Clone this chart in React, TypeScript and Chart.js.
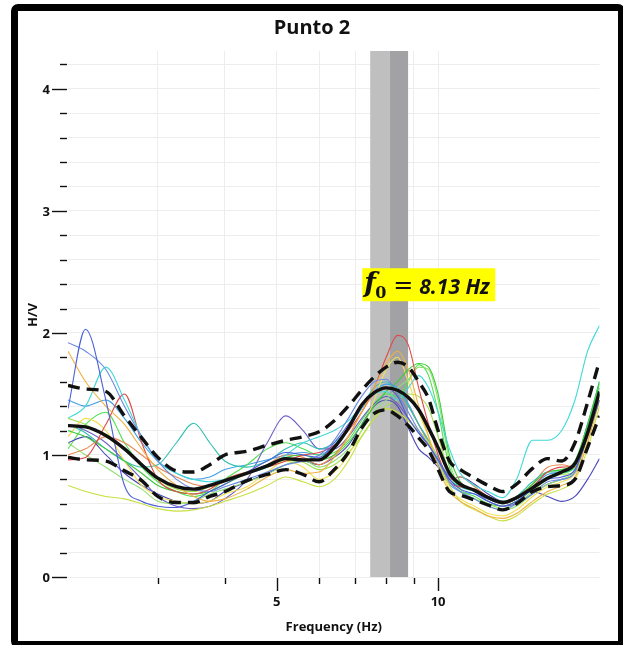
import React, { useEffect, useRef } from 'react';
import { Chart, registerables } from 'chart.js';

Chart.register(...registerables);

// ---------- data ----------
const freqs = [2.04, 2.2, 2.4, 2.6, 2.8, 3.0, 3.25, 3.5, 3.75, 4.0,
  4.4, 4.8, 5.2, 5.6, 6.0, 6.4, 6.8, 7.2, 7.6, 8.0,
  8.4, 8.8, 9.2, 9.6, 10.0, 10.5, 11.0, 11.7, 12.4, 13.2,
  14.0, 15.0, 16.0, 17.0, 18.0, 19.0, 20.0];

const meanCurve = [1.24, 1.23, 1.16, 1.05, 0.92, 0.81, 0.74, 0.72, 0.75, 0.79,
  0.85, 0.91, 0.97, 0.96, 0.96, 1.06, 1.22, 1.41, 1.51, 1.55,
  1.53, 1.47, 1.37, 1.22, 1.06, 0.85, 0.76, 0.71, 0.65, 0.61,
  0.65, 0.73, 0.81, 0.86, 0.93, 1.18, 1.52];

const upperCurve = [1.57, 1.54, 1.52, 1.32, 1.14, 0.98, 0.87, 0.86, 0.92, 1.0,
  1.03, 1.08, 1.12, 1.15, 1.19, 1.28, 1.40, 1.53, 1.64, 1.72,
  1.76, 1.72, 1.60, 1.46, 1.20, 0.95, 0.88, 0.81, 0.75, 0.70,
  0.76, 0.89, 0.97, 0.95, 1.10, 1.43, 1.77];

const lowerCurve = [0.98, 0.96, 0.95, 0.87, 0.79, 0.66, 0.61, 0.61, 0.66, 0.70,
  0.79, 0.84, 0.88, 0.84, 0.78, 0.88, 1.02, 1.22, 1.34, 1.37,
  1.32, 1.24, 1.14, 1.04, 0.88, 0.70, 0.67, 0.63, 0.59, 0.55,
  0.60, 0.70, 0.74, 0.75, 0.80, 1.06, 1.32];

const windowColors = ['#4a5fd8', '#6a88e0', '#f0b040', '#40d8d8', '#e04848', '#3ccc3c', '#90e070', '#c8e040',
  '#f0e050', '#30c0b0', '#e88850', '#7060c8', '#4848b8', '#50e050', '#40a0e8', '#a0e050'];

const win01 = [1.38, 2.03, 1.45, 0.75, 0.62, 0.58, 0.57, 0.62, 0.70, 0.76,
  0.86, 0.95, 1.02, 1.00, 0.98, 1.10, 1.25, 1.40, 1.52, 1.55,
  1.48, 1.30, 1.18, 1.08, 0.96, 0.80, 0.72, 0.68, 0.62, 0.58,
  0.62, 0.72, 0.80, 0.82, 0.88, 1.15, 1.45];
const win02 = [1.92, 1.85, 1.70, 1.40, 1.15, 0.95, 0.80, 0.72, 0.70, 0.74,
  0.80, 0.86, 0.92, 0.95, 1.00, 1.12, 1.30, 1.48, 1.60, 1.62,
  1.50, 1.35, 1.20, 1.08, 0.95, 0.78, 0.70, 0.64, 0.58, 0.55,
  0.60, 0.68, 0.78, 0.80, 0.86, 1.20, 1.50];
const win03 = [1.85, 1.60, 1.40, 1.25, 1.05, 0.88, 0.75, 0.66, 0.62, 0.64,
  0.72, 0.82, 0.88, 0.85, 0.86, 0.98, 1.15, 1.35, 1.55, 1.75,
  1.85, 1.70, 1.40, 1.15, 0.90, 0.70, 0.62, 0.56, 0.50, 0.48,
  0.52, 0.62, 0.70, 0.75, 0.82, 1.10, 1.45];
const win04 = [1.30, 1.40, 1.72, 1.45, 1.15, 0.95, 0.85, 0.80, 0.78, 0.80,
  0.85, 0.90, 1.00, 1.10, 1.15, 1.20, 1.28, 1.40, 1.50, 1.52,
  1.45, 1.55, 1.65, 1.55, 1.35, 1.05, 0.85, 0.75, 0.70, 0.65,
  0.80, 1.12, 1.12, 1.20, 1.45, 1.85, 2.06];
const win05 = [0.96, 0.98, 1.25, 1.50, 1.10, 0.80, 0.70, 0.68, 0.72, 0.80,
  0.86, 0.90, 0.95, 1.00, 1.02, 1.08, 1.20, 1.35, 1.55, 1.80,
  1.98, 1.90, 1.55, 1.25, 1.00, 0.78, 0.74, 0.72, 0.66, 0.60,
  0.64, 0.74, 0.86, 0.90, 0.92, 1.20, 1.50];
const win06 = [1.20, 1.15, 1.05, 0.95, 0.85, 0.75, 0.70, 0.68, 0.70, 0.76,
  0.85, 0.92, 0.98, 1.00, 0.96, 1.00, 1.10, 1.25, 1.40, 1.52,
  1.60, 1.70, 1.75, 1.72, 1.50, 1.00, 0.78, 0.70, 0.66, 0.60,
  0.64, 0.76, 0.86, 0.88, 0.95, 1.25, 1.60];
const win07 = [1.10, 1.00, 0.90, 0.80, 0.72, 0.62, 0.60, 0.62, 0.68, 0.72,
  0.78, 0.84, 0.92, 0.96, 0.90, 0.95, 1.05, 1.20, 1.35, 1.45,
  1.55, 1.62, 1.72, 1.70, 1.45, 0.95, 0.72, 0.64, 0.58, 0.55,
  0.58, 0.68, 0.76, 0.80, 0.88, 1.20, 1.55];
const win08 = [0.75, 0.70, 0.66, 0.64, 0.60, 0.56, 0.54, 0.55, 0.58, 0.62,
  0.68, 0.75, 0.82, 0.78, 0.74, 0.80, 0.95, 1.15, 1.30, 1.38,
  1.35, 1.28, 1.20, 1.10, 0.95, 0.75, 0.62, 0.55, 0.50, 0.46,
  0.50, 0.60, 0.68, 0.72, 0.80, 1.05, 1.40];
const win09 = [1.15, 1.30, 1.20, 0.95, 0.75, 0.66, 0.62, 0.60, 0.62, 0.68,
  0.74, 0.86, 0.95, 0.90, 0.80, 0.86, 1.00, 1.20, 1.45, 1.70,
  1.80, 1.60, 1.35, 1.15, 0.95, 0.72, 0.64, 0.58, 0.52, 0.50,
  0.55, 0.66, 0.74, 0.78, 0.85, 1.12, 1.45];
const win10 = [1.25, 1.18, 1.05, 0.95, 0.90, 0.92, 1.10, 1.26, 1.10, 0.95,
  0.90, 0.95, 1.05, 1.10, 1.05, 1.10, 1.22, 1.40, 1.55, 1.60,
  1.52, 1.40, 1.25, 1.12, 0.98, 0.80, 0.74, 0.70, 0.66, 0.62,
  0.66, 0.78, 0.86, 0.86, 0.92, 1.25, 1.60];
const win11 = [1.00, 1.05, 1.15, 1.10, 1.00, 0.90, 0.82, 0.76, 0.74, 0.78,
  0.84, 0.92, 1.00, 0.98, 0.92, 1.00, 1.15, 1.35, 1.50, 1.55,
  1.50, 1.40, 1.25, 1.10, 0.95, 0.80, 0.82, 0.74, 0.66, 0.62,
  0.66, 0.76, 0.90, 0.92, 0.90, 1.20, 1.50];
const win12 = [1.25, 1.20, 1.10, 0.95, 0.80, 0.66, 0.58, 0.56, 0.58, 0.64,
  0.80, 1.10, 1.32, 1.20, 1.05, 1.05, 1.15, 1.30, 1.42, 1.48,
  1.42, 1.30, 1.18, 1.08, 0.96, 0.82, 0.76, 0.70, 0.62, 0.58,
  0.60, 0.68, 0.76, 0.80, 0.85, 1.15, 1.45];
const win13 = [1.10, 1.15, 1.00, 0.85, 0.75, 0.68, 0.62, 0.60, 0.62, 0.70,
  0.78, 0.85, 0.92, 0.95, 0.92, 0.98, 1.08, 1.25, 1.40, 1.45,
  1.40, 1.22, 1.05, 0.98, 0.90, 0.80, 0.82, 0.76, 0.68, 0.62,
  0.64, 0.70, 0.66, 0.62, 0.66, 0.80, 0.97];
const win14 = [1.05, 1.25, 1.35, 1.10, 0.90, 0.78, 0.70, 0.66, 0.70, 0.80,
  0.92, 1.05, 1.10, 1.05, 1.00, 1.02, 1.12, 1.28, 1.42, 1.50,
  1.48, 1.60, 1.74, 1.65, 1.35, 0.90, 0.72, 0.66, 0.60, 0.58,
  0.62, 0.72, 0.82, 0.85, 0.90, 1.22, 1.58];
const win15 = [1.45, 1.40, 1.45, 1.30, 1.10, 0.95, 0.85, 0.80, 0.82, 0.88,
  0.92, 0.96, 1.00, 1.02, 1.00, 1.08, 1.22, 1.38, 1.52, 1.58,
  1.55, 1.42, 1.25, 1.10, 0.92, 0.76, 0.70, 0.68, 0.64, 0.60,
  0.64, 0.74, 0.84, 0.86, 0.92, 1.25, 1.55];
const win16 = [1.30, 1.25, 1.15, 1.05, 0.92, 0.80, 0.72, 0.70, 0.74, 0.80,
  0.86, 0.90, 0.96, 0.94, 0.88, 0.92, 1.02, 1.15, 1.30, 1.40,
  1.45, 1.50, 1.48, 1.38, 1.15, 0.85, 0.70, 0.64, 0.60, 0.56,
  0.60, 0.70, 0.80, 0.84, 0.86, 1.15, 1.48];

const windowCurves = [win01, win02, win03, win04, win05, win06, win07, win08,
  win09, win10, win11, win12, win13, win14, win15, win16];

const xTickValues = [3, 4, 5, 6, 7, 8, 9, 10];
const xLabelValues = [5, 10];
const yTickValues = [0, 0.2, 0.4, 0.6, 0.8, 1, 1.2, 1.4, 1.6, 1.8, 2, 2.2, 2.4, 2.6, 2.8, 3, 3.2, 3.4, 3.6, 3.8, 4, 4.2];
const yLabelValues = [0, 1, 2, 3, 4];

const f0 = 8.13;
const f0Low = 7.47;
const f0High = 8.79;
const f0LabelFreq = 7.22;
const f0LabelLevel = 2.53;

const chartTitle = 'Punto 2';
const xTitle = 'Frequency (Hz)';
const yTitle = 'H/V';

const FONT = '"Open Sans", "Noto Sans", sans-serif';

const toPoints = (arr: number[]) => freqs.map((f, i) => ({ x: f, y: arr[i] }));

const decorPlugin = {
  id: 'decor',
  beforeDatasetsDraw(chart: any) {
    const { ctx, chartArea, scales } = chart;
    const x = scales.x;
    const a = x.getPixelForValue(f0Low);
    const m = x.getPixelForValue(f0);
    const b = x.getPixelForValue(f0High);
    const h = chartArea.bottom - chartArea.top;
    ctx.save();
    ctx.fillStyle = '#bfbfbf';
    ctx.fillRect(a, chartArea.top, m - a, h);
    ctx.fillStyle = '#a2a2a5';
    ctx.fillRect(m, chartArea.top, b - m, h);
    ctx.restore();
  },
  afterDraw(chart: any) {
    const { ctx, chartArea, scales } = chart;
    const x = scales.x;
    const y = scales.y;
    ctx.save();
    ctx.strokeStyle = '#111';
    ctx.fillStyle = '#111';
    ctx.lineWidth = 1.4;
    // y ticks
    yTickValues.forEach((v) => {
      const py = Math.round(y.getPixelForValue(v)) + 0.5;
      const major = yLabelValues.some((l) => Math.abs(l - v) < 1e-6);
      ctx.beginPath();
      ctx.moveTo(chartArea.left - (major ? 16 : 8), py);
      ctx.lineTo(chartArea.left - 1, py);
      ctx.stroke();
    });
    ctx.font = `bold 13px ${FONT}`;
    ctx.textAlign = 'right';
    ctx.textBaseline = 'middle';
    yLabelValues.forEach((v) => {
      ctx.fillText(String(v), chartArea.left - 18, y.getPixelForValue(v) + 1);
    });
    // x ticks
    xTickValues.forEach((v) => {
      const px = Math.round(x.getPixelForValue(v)) + 0.5;
      const major = xLabelValues.includes(v);
      ctx.beginPath();
      ctx.moveTo(px, chartArea.bottom + 1);
      ctx.lineTo(px, chartArea.bottom + (major ? 14 : 7));
      ctx.stroke();
    });
    ctx.textAlign = 'center';
    ctx.textBaseline = 'middle';
    xLabelValues.forEach((v) => {
      ctx.fillText(String(v), x.getPixelForValue(v), chartArea.bottom + 25);
    });
    // axis titles
    ctx.fillText(xTitle, (chartArea.left + chartArea.right) / 2, chartArea.bottom + 50);
    ctx.save();
    ctx.translate(33, 315);
    ctx.rotate(-Math.PI / 2);
    ctx.fillText(yTitle, 0, 0);
    ctx.restore();
    // chart title
    ctx.font = `bold 20px ${FONT}`;
    ctx.fillText(chartTitle, 312, 28);
    // f0 label
    const lx = x.getPixelForValue(f0LabelFreq);
    const ly = y.getPixelForValue(f0LabelLevel);
    ctx.fillStyle = '#ffff00';
    ctx.fillRect(lx, ly, 133, 33);
    ctx.fillStyle = '#111';
    ctx.textAlign = 'left';
    ctx.textBaseline = 'alphabetic';
    ctx.font = `italic bold 27px "DejaVu Serif", serif`;
    ctx.fillText('f', lx + 2, ly + 24);
    ctx.font = `bold 16px "DejaVu Serif", serif`;
    ctx.fillText('0', lx + 13, ly + 30);
    ctx.font = `24px "DejaVu Serif", serif`;
    ctx.fillText('=', lx + 31, ly + 25);
    ctx.font = `italic bold 21px ${FONT}`;
    ctx.fillText('8.13 Hz', lx + 57, ly + 26);
    ctx.restore();
  },
};

export default function App() {
  const ref = useRef<HTMLCanvasElement | null>(null);

  useEffect(() => {
    if (!ref.current) return;
    const datasets: any[] = [];
    datasets.push({
      data: toPoints(meanCurve), borderColor: '#111', borderWidth: 3.4,
      pointRadius: 0, cubicInterpolationMode: 'monotone', fill: false,
    });
    datasets.push({
      data: toPoints(upperCurve), borderColor: '#111', borderWidth: 3.4, borderDash: [12, 7],
      pointRadius: 0, cubicInterpolationMode: 'monotone', fill: false,
    });
    datasets.push({
      data: toPoints(lowerCurve), borderColor: '#111', borderWidth: 3.4, borderDash: [12, 7],
      pointRadius: 0, cubicInterpolationMode: 'monotone', fill: false,
    });
    windowCurves.forEach((c, i) => {
      datasets.push({
        data: toPoints(c), borderColor: windowColors[i], borderWidth: 1.1,
        pointRadius: 0, cubicInterpolationMode: 'monotone', fill: false,
      });
    });

    const chart = new Chart(ref.current, {
      type: 'line',
      data: { datasets },
      options: {
        animation: false,
        responsive: false,
        maintainAspectRatio: false,
        layout: { padding: { left: 0, right: 23.5, top: 51, bottom: 0 } },
        plugins: { legend: { display: false }, tooltip: { enabled: false }, title: { display: false } },
        scales: {
          x: {
            type: 'logarithmic',
            min: 2.04,
            max: 20,
            ticks: { display: false },
            grid: { color: '#ededed', lineWidth: 1, drawTicks: false },
            border: { display: false },
            afterBuildTicks: (s: any) => { s.ticks = xTickValues.map((v) => ({ value: v })); },
            afterFit: (s: any) => { s.height = 68; },
          },
          y: {
            type: 'linear',
            min: 0,
            max: 4.31,
            ticks: { display: false },
            grid: { color: '#ededed', lineWidth: 1, drawTicks: false },
            border: { display: false },
            afterBuildTicks: (s: any) => { s.ticks = yTickValues.map((v) => ({ value: v })); },
            afterFit: (s: any) => { s.width = 68; },
          },
        },
      } as any,
      plugins: [decorPlugin],
    });
    return () => chart.destroy();
  }, []);

  return (
    <div style={{ position: 'fixed', left: 0, top: 0, width: 623, height: 645, overflow: 'hidden', background: '#fff' }}>
      <canvas ref={ref} width={623} height={645} style={{ position: 'absolute', left: 0, top: 0, width: 623, height: 645 }} />
      <div style={{
        position: 'absolute', left: 11, top: 4, width: 614, height: 644, boxSizing: 'border-box',
        border: '7px solid #000', borderRadius: 7, pointerEvents: 'none',
      }} />
    </div>
  );
}
